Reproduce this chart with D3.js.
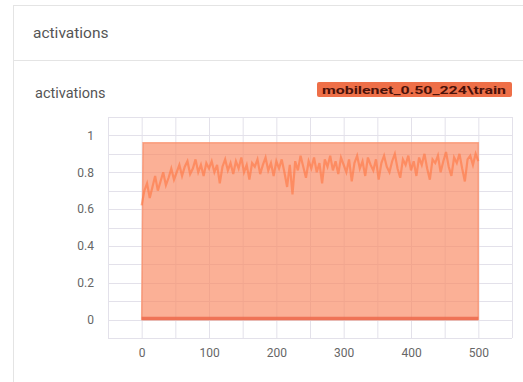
<!DOCTYPE html>
<html><head><meta charset="utf-8">
<script src="https://cdn.jsdelivr.net/npm/d3@7"></script>
<style>
html,body{margin:0;padding:0;background:#fff;}
svg{display:block;font-family:Roboto,"Open Sans",Arial,sans-serif;}
</style></head>
<body>
<svg id="c" width="523" height="382"></svg>
<script>
const cardTitle = "activations";
const chartTitle = "activations";
const runName = "mobilenet_0.50_224\\train";
const xTicks = [0, 100, 200, 300, 400, 500];
const yTicks = [0, 0.2, 0.4, 0.6, 0.8, 1];
// raw envelope (min / max of the rapidly oscillating raw values)
const envSteps = [0, 2, 100, 200, 300, 400, 500];
const envMax   = [0.0, 0.96, 0.96, 0.96, 0.96, 0.96, 0.96];
const envMin   = [0.0, 0.0, 0.0, 0.0, 0.0, 0.0, 0.0];
// smoothed series, one value every 4 steps from 0 to 500
const smoothStep = 4;
const smoothed = [
 0.62,0.70,0.74,0.66,0.72,0.78,0.70,0.75,0.80,0.73,0.77,
 0.82,0.76,0.80,0.84,0.78,0.83,0.86,0.79,0.82,0.87,0.80,0.84,0.78,0.85,0.82,
 0.86,0.80,0.84,0.74,0.83,0.87,0.81,0.85,0.79,0.86,0.82,0.88,0.80,0.84,0.76,0.85,0.83,0.87,0.79,0.84,0.88,0.81,0.85,0.78,0.86,
 0.82,0.87,0.80,0.72,0.84,0.68,0.86,0.81,0.89,0.83,0.77,0.86,0.82,0.88,0.80,0.85,0.74,0.87,0.83,0.89,0.81,0.86,0.79,0.88,0.84,
 0.80,0.87,0.75,0.85,0.89,0.82,0.86,0.78,0.88,0.84,0.81,0.87,0.76,0.85,0.89,0.83,0.80,0.86,0.90,0.82,0.77,0.87,0.84,0.89,0.81,
 0.86,0.78,0.88,0.84,0.90,0.82,0.76,0.87,0.85,0.89,0.80,0.86,0.91,0.83,0.78,0.88,0.85,0.90,0.82,0.75,0.87,0.89,0.84,0.90,0.86
];

const svg = d3.select("#c");
// card
svg.append("rect").attr("x",13.5).attr("y",5.5).attr("width",520).attr("height",390)
  .attr("fill","#fff").attr("stroke","#e4e4e4");
svg.append("line").attr("x1",13).attr("x2",523).attr("y1",60.5).attr("y2",60.5).attr("stroke","#e4e4e4");
svg.append("text").attr("x",33).attr("y",38).attr("font-size",15.5).attr("fill","#555").text(cardTitle);
svg.append("text").attr("x",35).attr("y",98).attr("font-size",14.5).attr("fill","#555").text(chartTitle);

// legend badge
const badge = svg.append("g");
badge.append("rect").attr("x",317).attr("y",82).attr("width",195).attr("height",15).attr("rx",2)
  .attr("fill","#ee6f48");
badge.append("text").attr("x",322).attr("y",94).attr("textLength",184).attr("lengthAdjust","spacingAndGlyphs")
  .attr("font-size",11.5).attr("font-weight","bold").attr("fill","#4a120a").text(runName);

const L=108, R=512, T=117, B=338;
const x = d3.scaleLinear().domain([-50,550]).range([L,R]);
const y = d3.scaleLinear().domain([-0.1,1.1]).range([B,T]);

// grid
const g = svg.append("g");
g.selectAll("line.v").data(d3.range(-50,551,50)).join("line")
  .attr("x1",d=>x(d)+0.5).attr("x2",d=>x(d)+0.5).attr("y1",T).attr("y2",B)
  .attr("stroke","#e3e1ea");
g.selectAll("line.h").data(d3.range(-1,12).map(d=>d/10)).join("line")
  .attr("y1",d=>Math.round(y(d))+0.5).attr("y2",d=>Math.round(y(d))+0.5).attr("x1",L).attr("x2",R)
  .attr("stroke","#e3e1ea");

// axes labels
const yAxis = d3.axisLeft(y).tickValues(yTicks).tickSize(0).tickPadding(14).tickFormat(d3.format("~g"));
svg.append("g").attr("transform",`translate(${L},0)`).call(yAxis)
  .call(a=>a.select(".domain").remove())
  .selectAll("text").attr("font-size",12).attr("fill","#666").attr("font-family","Roboto,Arial,sans-serif");
const xAxis = d3.axisBottom(x).tickValues(xTicks).tickSize(0).tickPadding(10);
svg.append("g").attr("transform",`translate(0,${B})`).call(xAxis)
  .call(a=>a.select(".domain").remove())
  .selectAll("text").attr("font-size",12).attr("fill","#666").attr("font-family","Roboto,Arial,sans-serif");

// envelope area
const env = envSteps.map((s,i)=>({s, hi:envMax[i], lo:envMin[i]}));
svg.append("path").datum(env)
  .attr("d", d3.area().x(d=>x(d.s)).y0(d=>y(d.lo)).y1(d=>y(d.hi)))
  .attr("fill","#f98a64").attr("fill-opacity",0.68)
  .attr("stroke","#f98a64").attr("stroke-opacity",0.7).attr("stroke-width",1.5);

// bottom band near zero
svg.append("path").datum(env)
  .attr("d", d3.line().x(d=>x(d.s)).y(d=>y(d.lo)-1))
  .attr("fill","none").attr("stroke","#ec6a4c").attr("stroke-width",3.5).attr("stroke-opacity",0.85);

// smoothed line
const sm = smoothed.map((v,i)=>({s:i*smoothStep, v}));
svg.append("path").datum(sm)
  .attr("d", d3.line().x(d=>x(d.s)).y(d=>y(d.v)))
  .attr("fill","none").attr("stroke","#ff7540").attr("stroke-width",2.2).attr("stroke-opacity",0.6);
</script>
</body></html>
